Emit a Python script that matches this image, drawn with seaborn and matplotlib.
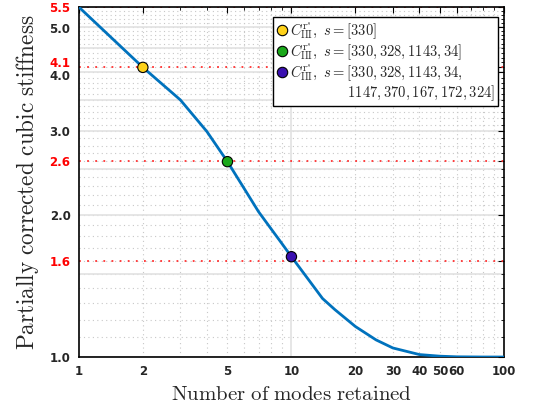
import numpy as np
import pandas as pd
import matplotlib
matplotlib.use("Agg")
import matplotlib.pyplot as plt
import matplotlib.transforms as mtransforms
import seaborn as sns
from matplotlib.ticker import FixedLocator, FixedFormatter, NullFormatter
from matplotlib.lines import Line2D

# ---- data ----
modes = [1, 2, 3, 4, 5, 6, 7, 8, 9, 10, 12, 14, 16, 20, 25, 30, 40, 50, 60, 80, 100]
stiffness = [5.5, 4.1, 3.5, 3.0, 2.59, 2.27, 2.03, 1.87, 1.74, 1.63, 1.46, 1.33,
             1.26, 1.16, 1.087, 1.045, 1.012, 1.004, 1.001, 1.0, 1.0]
marker_modes = [2, 5, 10]
marker_vals = [4.1, 2.59, 1.63]
marker_labels = [
    r"$C_{\mathrm{III}}^{\mathrm{r}^{s}},\ s=[330]$",
    r"$C_{\mathrm{III}}^{\mathrm{r}^{s}},\ s=[330,328,1143,34]$",
    r"$C_{\mathrm{III}}^{\mathrm{r}^{s}},\ s=[330,328,1143,34,$",
]
legend_continuation = r"$\qquad\qquad\ \,1147,370,167,172,324]$"
marker_colors = ["#ffd21a", "#1aa81a", "#3a10b0"]
ref_levels = [5.5, 4.1, 2.6, 1.6]
ref_labels = ["5.5", "4.1", "2.6", "1.6"]
xticks = [1, 2, 5, 10, 20, 30, 40, 50, 60, 100]
xtick_labels = ["1", "2", "5", "10", "20", "30", "40", "50", "60", "100"]
yticks = [1.0, 2.0, 3.0, 4.0, 5.0]
ytick_labels = ["1.0", "2.0", "3.0", "4.0", "5.0"]

sns.set_style("white")
plt.rcParams["mathtext.fontset"] = "cm"
plt.rcParams["font.family"] = ["DejaVu Sans"]

fig = plt.figure(figsize=(5.33, 4.16), dpi=100)
ax = fig.add_axes([0.148, 0.1418, 0.7976, 0.8412])
ax.set_xscale("log")
ax.set_yscale("log")
ax.set_xlim(1, 100)
ax.set_ylim(1.0, 5.5)

# grid lines
for v in np.arange(1.1, 5.5, 0.1):
    ax.axhline(v, color="#c8c8c8", lw=0.8, ls=(0, (1, 3)), zorder=0)
for v in np.arange(1.0, 5.51, 0.5):
    ax.axhline(v, color="#e2e2e2", lw=1.2, zorder=0.5)
minor_x = [2, 3, 4, 5, 6, 7, 8, 9, 20, 30, 40, 50, 60, 70, 80, 90]
for v in minor_x:
    ax.axvline(v, color="#c8c8c8", lw=0.8, ls=(0, (1, 3)), zorder=0)
ax.axvline(10, color="#e2e2e2", lw=1.2, zorder=0.5)

for lv in ref_levels:
    ax.axhline(lv, color="#ff3030", lw=1.3, ls=(0, (1, 3.5)), zorder=1)

df = pd.DataFrame({"modes": modes, "stiffness": stiffness})
sns.lineplot(data=df, x="modes", y="stiffness", ax=ax, color="#0072BD", lw=2.0,
             legend=False, zorder=3)
mdf = pd.DataFrame({"modes": marker_modes, "stiffness": marker_vals, "lab": marker_labels})
sns.scatterplot(data=mdf, x="modes", y="stiffness", hue="lab", palette=marker_colors,
                s=55, edgecolor="black", linewidth=0.8, ax=ax, legend=False, zorder=4)

# ticks
ax.xaxis.set_major_locator(FixedLocator(xticks))
ax.xaxis.set_major_formatter(FixedFormatter(xtick_labels))
ax.xaxis.set_minor_locator(FixedLocator([3, 4, 6, 7, 8, 9, 70, 80, 90]))
ax.xaxis.set_minor_formatter(NullFormatter())
yt = yticks + ref_levels
yl = ytick_labels + ref_labels
ax.yaxis.set_major_locator(FixedLocator(yt))
ax.yaxis.set_major_formatter(FixedFormatter(yl))
ax.yaxis.set_minor_locator(FixedLocator(list(np.arange(1.1, 5.5, 0.1))))
ax.yaxis.set_minor_formatter(NullFormatter())
ax.tick_params(which="both", direction="in", top=True, right=True, color="black")
ax.tick_params(which="major", length=4, width=0.8, labelsize=8.5, pad=6)
ax.tick_params(which="minor", length=2.5, width=0.6)
for lab in ax.get_xticklabels() + ax.get_yticklabels():
    lab.set_fontweight("bold")
shifts = {"4.1": 5, "4.0": -3, "5.0": -1, "5.5": 0.5}
for lab, txt in zip(ax.get_yticklabels(), yl):
    if txt in ref_labels:
        lab.set_color("red")
    if txt in shifts:
        off = mtransforms.ScaledTranslation(0, shifts[txt] / 100.0, fig.dpi_scale_trans)
        lab.set_transform(lab.get_transform() + off)

for sp in ax.spines.values():
    sp.set_color("black")
    sp.set_linewidth(1.2)

ax.set_xlabel(r"$\mathrm{Number\ of\ modes\ retained}$", fontsize=15, labelpad=4)
ax.set_ylabel(r"$\mathrm{Partially\ corrected\ cubic\ stiffness}$", fontsize=16.7, labelpad=6)

handles = [Line2D([], [], ls="none", marker="o", markersize=7.5, markerfacecolor=c,
                  markeredgecolor="black", markeredgewidth=0.8) for c in marker_colors]
handles.append(Line2D([], [], ls="none", marker=None))
labels = marker_labels + [legend_continuation]
leg = ax.legend(handles, labels, loc="upper right", bbox_to_anchor=(0.993, 0.98),
                fontsize=10.5, frameon=True, fancybox=False, framealpha=1,
                edgecolor="black", handletextpad=0.1, handlelength=0.9,
                borderpad=0.2, labelspacing=0.02, borderaxespad=0.2)
leg.get_frame().set_linewidth(1.0)

fig.savefig("out.png", dpi=100)
